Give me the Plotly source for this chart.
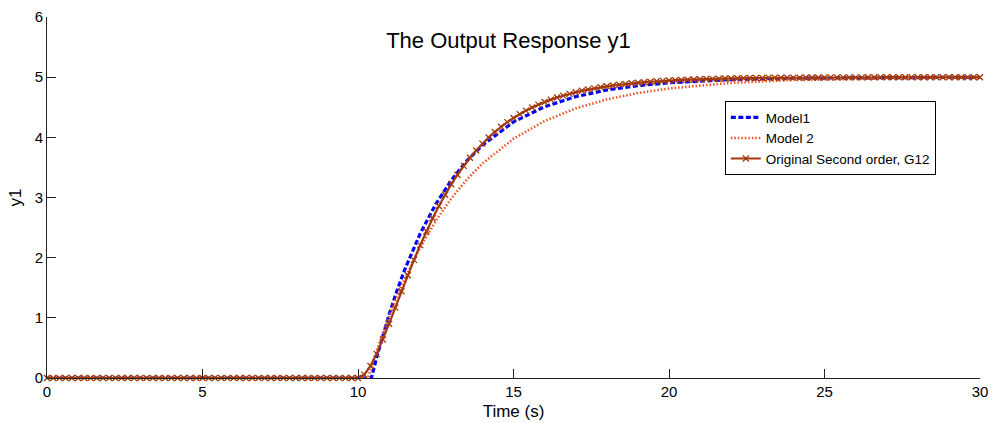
import numpy as np
import plotly.graph_objects as go

# ---------------- data ----------------
sample_step = 0.2  # s, sampling of the original response (markers at each sample)
time_orig = np.round(np.arange(151) * sample_step, 1)

orig_flat = [0.0] * 50  # t = 0 .. 9.8 s, before the step at 10 s
orig_rise = [
    0.000, 0.056, 0.199, 0.401, 0.640, 0.901, 1.170, 1.441, 1.707, 1.963,
    2.208, 2.439, 2.656, 2.859, 3.046, 3.219, 3.379, 3.525, 3.660, 3.782,
    3.895, 3.997, 4.090, 4.175, 4.253, 4.322, 4.386, 4.444, 4.496, 4.544,
    4.587, 4.627, 4.661, 4.693, 4.722, 4.749, 4.773, 4.794, 4.814, 4.832,
    4.848, 4.862, 4.875, 4.887, 4.898, 4.908, 4.916, 4.924, 4.932, 4.938,
    4.944, 4.949, 4.954, 4.958, 4.962, 4.966, 4.969, 4.972, 4.975, 4.977,
    4.979, 4.981, 4.983, 4.985, 4.986, 4.987, 4.989, 4.990, 4.991, 4.992,
    4.992, 4.993, 4.994, 4.994, 4.995, 4.995, 4.996, 4.996, 4.997, 4.997,
    4.997, 4.997, 4.998, 4.998, 4.998, 4.998, 4.998, 4.999, 4.999, 4.999,
    4.999, 4.999, 4.999, 4.999, 4.999, 4.999, 4.999, 4.999, 4.999, 4.999,
    4.999,
]
y_orig = orig_flat + orig_rise

time_m1 = [0, 10.43, 10.6, 10.75, 11, 11.25, 11.5, 12, 12.5, 13, 13.5, 14,
           15, 16, 17, 18, 19, 20, 22, 24, 26, 28, 30]
y_m1 = [0, 0, 0.342, 0.624, 1.057, 1.447, 1.798, 2.401, 2.889, 3.286, 3.609,
        3.870, 4.256, 4.509, 4.676, 4.787, 4.859, 4.907, 4.960, 4.983, 4.992,
        4.997, 4.999]

time_m2 = [0, 10.32, 10.5, 10.75, 11, 11.25, 11.5, 12, 12.5, 13, 13.5, 14,
           15, 16, 17, 18, 19, 20, 22, 24, 26, 28, 30]
y_m2 = [0, 0, 0.296, 0.679, 1.030, 1.352, 1.648, 2.171, 2.612, 2.984, 3.299,
        3.564, 3.977, 4.271, 4.481, 4.630, 4.736, 4.812, 4.905, 4.952, 4.975,
        4.988, 4.994]

x_ticks = [0, 5, 10, 15, 20, 25, 30]
y_ticks = [0, 1, 2, 3, 4, 5, 6]

names = ["Model1", "Model 2", "Original Second order, G12"]
colors = ["#0000FF", "#EC5428", "#A23A0C"]

FONT = "Arial, 'Liberation Sans', Helvetica, sans-serif"

fig = go.Figure()
fig.add_trace(go.Scatter(
    x=time_m1, y=y_m1, mode="lines", name=names[0],
    line=dict(color=colors[0], width=3.2, dash="5px,2.5px"), cliponaxis=False))
fig.add_trace(go.Scatter(
    x=time_m2, y=y_m2, mode="lines", name=names[1],
    line=dict(color=colors[1], width=2.6, dash="1.5px,2px"), cliponaxis=False))
fig.add_trace(go.Scatter(
    x=time_orig, y=y_orig, mode="lines+markers", name=names[2],
    line=dict(color=colors[2], width=2.2),
    marker=dict(symbol="x-thin", size=6, color=colors[2],
                line=dict(color=colors[2], width=1.3)),
    cliponaxis=False))

fig.update_layout(
    width=995, height=423,
    margin=dict(l=47, r=15, t=17, b=45),
    paper_bgcolor="white", plot_bgcolor="white",
    font=dict(family=FONT, size=15, color="black"),
    title=dict(text="The Output Response y1", x=0.511, xanchor="center",
               y=1 - 40 / 423, yanchor="middle", yref="container",
               font=dict(size=22, family=FONT, color="black")),
    showlegend=True,
    legend=dict(x=0.7265, y=0.767, xanchor="left", yanchor="top",
                bgcolor="white", bordercolor="black", borderwidth=1,
                font=dict(size=13.5, family=FONT, color="black"),
                tracegroupgap=0, itemwidth=30),
)
fig.update_xaxes(
    range=[0, 30], tickvals=x_ticks, ticktext=[str(v) for v in x_ticks],
    showline=True, linecolor="#222222", linewidth=1, mirror=False,
    ticks="inside", ticklen=9, tickcolor="#222222", showgrid=False, zeroline=False,
    tickfont=dict(size=15), automargin=False,
    title=dict(text="Time (s)", font=dict(size=17), standoff=6))
fig.update_yaxes(
    range=[0, 6], tickvals=y_ticks, ticktext=[str(v) for v in y_ticks],
    showline=True, linecolor="#222222", linewidth=1, mirror=False,
    ticks="inside", ticklen=9, tickcolor="#222222", showgrid=False, zeroline=False,
    tickfont=dict(size=15), automargin=False,
    title=dict(text="y1", font=dict(size=17), standoff=8))

fig.write_html("out.html")
